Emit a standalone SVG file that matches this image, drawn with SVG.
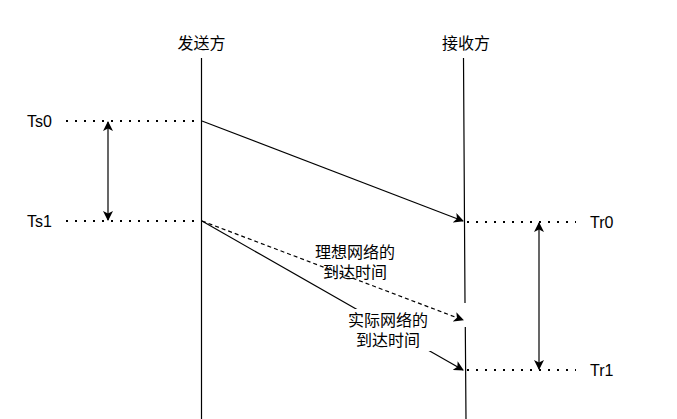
<svg xmlns="http://www.w3.org/2000/svg" width="677" height="419" viewBox="0 0 677 419">
<style>
text{font-family:"Liberation Sans","Noto Sans CJK SC",sans-serif;font-size:16px;fill:#000;dominant-baseline:central}
.c{text-anchor:middle}
.life{stroke:#000;stroke-width:1.2;fill:none}
.dot{stroke:#000;stroke-width:2;stroke-dasharray:2 7;fill:none}
.ln{stroke:#000;stroke-width:1.2;fill:none}
</style>
<defs>
<marker id="ah" viewBox="0 0 10 10" refX="9" refY="5" markerWidth="10" markerHeight="10" markerUnits="userSpaceOnUse" orient="auto-start-reverse">
<path d="M0,0 L10,5 L0,10 L2.5,5 Z" fill="#000"/>
</marker>
</defs>
<rect width="677" height="419" fill="#fff"/>
<g id="sender">
<text class="c" x="201.5" y="43">发送方</text>
<line class="life" x1="201.5" y1="58" x2="201.5" y2="419"/>
</g>
<g id="receiver">
<text class="c" x="466" y="43">接收方</text>
<path class="life" d="M463.5,58 L465,303 M465.3,327 L466,419"/>
</g>
<g id="ts0">
<text x="27" y="121">Ts0</text>
<line class="dot" x1="66" y1="121" x2="201" y2="121"/>
</g>
<g id="ts1">
<text x="27" y="221">Ts1</text>
<line class="dot" x1="66" y1="221" x2="201" y2="221"/>
</g>
<g id="tr0">
<text x="590" y="222">Tr0</text>
<line class="dot" x1="467" y1="222" x2="576" y2="222"/>
</g>
<g id="tr1">
<text x="590" y="370">Tr1</text>
<line class="dot" x1="467" y1="370" x2="576" y2="370"/>
</g>
<g id="connectors">
<line class="ln" x1="108" y1="122" x2="108" y2="220" stroke="#222" marker-start="url(#ah)" marker-end="url(#ah)"/>
<line class="ln" x1="539" y1="223" x2="539" y2="369" stroke="#222" marker-start="url(#ah)" marker-end="url(#ah)"/>
<line class="ln" x1="202" y1="121" x2="463" y2="221" marker-end="url(#ah)"/>
<line class="ln" x1="202" y1="221" x2="463" y2="320" stroke-dasharray="4 3" marker-end="url(#ah)"/>
<line class="ln" x1="202" y1="221" x2="463" y2="370" marker-end="url(#ah)"/>
</g>
<g id="label-ideal">
<text class="c" x="355" y="252">理想网络的</text>
<text class="c" x="355" y="272">到达时间</text>
</g>
<g id="label-actual">
<rect x="345" y="309" width="86" height="42" fill="#fff"/>
<text class="c" x="388" y="320">实际网络的</text>
<text class="c" x="388" y="340">到达时间</text>
</g>
</svg>
